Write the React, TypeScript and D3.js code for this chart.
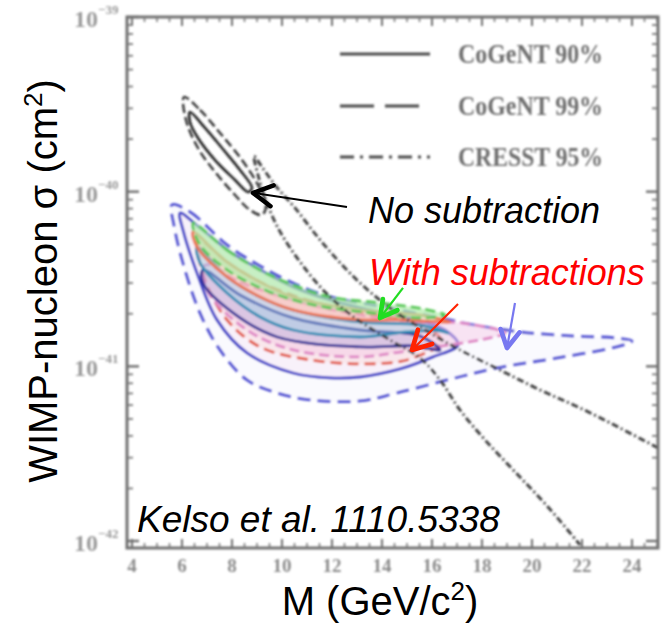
import * as d3 from "d3";

type Pt = [number, number]; // [M in GeV/c^2, log10 sigma in cm^2]

const massTicks = [4, 6, 8, 10, 12, 14, 16, 18, 20, 22, 24];
const sigmaDecades = [-39, -40, -41, -42];
const legendLabels = ["CoGeNT 90%", "CoGeNT 99%", "CRESST 95%"];

const cogent90: Pt[] = [
  [6.32, -39.544], [6.92, -39.635], [7.6, -39.75], [8.32, -39.876], [8.8, -39.979],
  [8.64, -40.002], [8.12, -39.933], [7.32, -39.819], [6.64, -39.693], [6.32, -39.601],
];
const cogent99: Pt[] = [
  [6.08, -39.458], [6.72, -39.532], [7.52, -39.664], [8.4, -39.819], [9.04, -39.962],
  [9.36, -40.076], [9.2, -40.133], [8.72, -40.105], [8.12, -40.019], [7.32, -39.887],
  [6.64, -39.75], [6.16, -39.59],
];
const cresst95: Pt[] = [
  [25.04, -41.467], [23.52, -41.353], [21.92, -41.238], [20.32, -41.135], [18.72, -41.021],
  [17.12, -40.906], [15.92, -40.809], [14.72, -40.706], [13.52, -40.574], [12.52, -40.437],
  [11.52, -40.276], [10.52, -40.093], [9.72, -39.962], [9.2, -39.859], [8.88, -39.796],
  [9.04, -39.904], [9.28, -40.019], [9.84, -40.208], [10.72, -40.402], [11.72, -40.574],
  [12.92, -40.723], [14.32, -40.849], [15.52, -40.952], [16.32, -41.078], [17.12, -41.25],
  [18.12, -41.421], [19.32, -41.604], [20.64, -41.805], [21.92, -42.022],
];

// subtracted fits
const blueDashed: Pt[] = [
  [5.6, -40.076], [6.32, -40.116], [7.8, -40.305], [9.12, -40.425], [10.44, -40.523],
  [11.8, -40.597], [13.12, -40.637], [14.72, -40.677], [16.32, -40.723], [17.92, -40.769],
  [19.52, -40.803], [21.52, -40.826], [23.32, -40.837], [24.0, -40.855], [23.52, -40.883],
  [21.24, -40.946], [18.6, -41.009], [16.6, -41.078], [14.6, -41.152], [13.12, -41.198],
  [11.12, -41.192], [9.8, -41.152], [8.6, -41.078], [7.52, -40.906], [6.72, -40.694],
  [6.04, -40.408], [5.68, -40.191],
];
const blueSolid: Pt[] = [
  [5.92, -40.122], [6.72, -40.208], [7.92, -40.345], [9.12, -40.448], [10.44, -40.545],
  [11.92, -40.62], [13.52, -40.677], [15.12, -40.723], [16.52, -40.792], [17.04, -40.877],
  [16.04, -40.946], [14.72, -41.015], [13.12, -41.061], [11.92, -41.066], [10.44, -41.038],
  [8.6, -40.923], [7.4, -40.734], [6.6, -40.465], [6.04, -40.219],
];
const redDashed: Pt[] = [
  [6.64, -40.276], [7.8, -40.402], [9.12, -40.517], [10.72, -40.608], [12.32, -40.666],
  [13.92, -40.711], [15.52, -40.757], [16.4, -40.86], [15.24, -40.952], [14.6, -40.975],
  [13.12, -40.986], [11.12, -40.963], [9.12, -40.889], [7.8, -40.734], [6.92, -40.505],
];
const pinkDashed: Pt[] = [
  [6.92, -40.42], [8.32, -40.517], [10.44, -40.62], [13.12, -40.706], [15.52, -40.746],
  [17.24, -40.752], [18.92, -40.809], [18.32, -40.837], [16.72, -40.877], [14.72, -40.918],
  [13.12, -40.946], [10.44, -40.906], [8.6, -40.792], [7.0, -40.563],
];
const purpleSolid: Pt[] = [
  [6.84, -40.448], [8.32, -40.591], [10.44, -40.723], [13.12, -40.792], [15.52, -40.826],
  [16.32, -40.906], [15.24, -40.883], [13.12, -40.889], [9.8, -40.832], [8.04, -40.694],
  [6.84, -40.523],
];
const tealSolid: Pt[] = [
  [6.6, -40.317], [7.8, -40.488], [9.12, -40.603], [10.44, -40.677], [13.12, -40.746],
  [15.52, -40.763], [16.64, -40.809], [16.32, -40.797], [15.0, -40.803], [13.12, -40.832],
  [10.44, -40.792], [9.12, -40.717], [7.8, -40.58], [6.72, -40.408],
];
const orangeSolid: Pt[] = [
  [6.44, -40.231], [7.8, -40.402], [9.12, -40.517], [10.44, -40.603], [13.12, -40.677],
  [15.52, -40.706], [16.72, -40.746], [16.32, -40.746], [14.6, -40.734], [13.12, -40.734],
  [10.44, -40.677], [9.12, -40.603], [7.8, -40.488], [6.6, -40.317],
];
const greenDashed: Pt[] = [
  [6.44, -40.179], [7.8, -40.334], [9.12, -40.448], [10.44, -40.534], [11.92, -40.603],
  [13.92, -40.637], [15.64, -40.671], [16.52, -40.706], [15.52, -40.723], [13.92, -40.7],
  [11.92, -40.666], [10.44, -40.62], [9.12, -40.551], [7.8, -40.448], [6.72, -40.305],
];

// annotation arrows: [tail, tip]
const arrowNoSub: [Pt, Pt] = [[12.6, -40.088], [8.84, -40.007]];
const arrowGreen: [Pt, Pt] = [[14.84, -40.551], [13.92, -40.723]];
const arrowRed: [Pt, Pt] = [[17.04, -40.643], [15.2, -40.906]];
const arrowBlue: [Pt, Pt] = [[19.32, -40.637], [19.0, -40.895]];

const x = d3.scaleLinear().domain([3.8, 25.04]).range([127, 658]);
const y = d3.scaleLog().domain([10 ** -42.04, 1e-39]).range([548, 17]);
const pt = (p: Pt): [number, number] => [x(p[0]), y(10 ** p[1])];

const closed = d3.line<Pt>().x((d) => pt(d)[0]).y((d) => pt(d)[1]).curve(d3.curveCatmullRomClosed.alpha(0.5));
const open = d3.line<Pt>().x((d) => pt(d)[0]).y((d) => pt(d)[1]).curve(d3.curveCatmullRom.alpha(0.5));

const contours = [
  { data: blueDashed, stroke: "#5050d2", fill: "#eeeefc", dash: "13 7", op: 0.3 },
  { data: blueSolid, stroke: "#4343c6", fill: "#f4e4f4", dash: "", op: 0.4 },
  { data: redDashed, stroke: "#e25a4a", fill: "#fadcdc", dash: "11 6", op: 0.45 },
  { data: pinkDashed, stroke: "#de86c4", fill: "#f6cce8", dash: "10 5", op: 0.5 },
  { data: purpleSolid, stroke: "#2e2e96", fill: "#9a9ad8", dash: "", op: 0.3 },
  { data: tealSolid, stroke: "#2a8cb4", fill: "#a0d2e6", dash: "", op: 0.45 },
  { data: orangeSolid, stroke: "#ec7452", fill: "#f8c2ae", dash: "", op: 0.5 },
  { data: greenDashed, stroke: "#58c858", fill: "#b2eeac", dash: "10 5", op: 0.7 },
];

function Arrow({ seg, color, width, head }: { seg: [Pt, Pt]; color: string; width: number; head: number }) {
  const [x1, y1] = pt(seg[0]);
  const [x2, y2] = pt(seg[1]);
  const a = Math.atan2(y2 - y1, x2 - x1);
  const arm = (s: number) => [x2 - head * Math.cos(a + s), y2 - head * Math.sin(a + s)];
  const [ax, ay] = arm(0.5);
  const [bx, by] = arm(-0.5);
  return (
    <g>
      <line x1={x1} y1={y1} x2={x2} y2={y2} stroke={color} strokeWidth={width} />
      <path d={`M${ax},${ay}L${x2},${y2}L${bx},${by}`} fill="none" stroke={color}
        strokeWidth={width + 2.5} strokeLinecap="round" strokeLinejoin="round" />
    </g>
  );
}

export default function App() {
  const [x0, x1] = x.range();
  const [yb, yt] = y.range();
  const minorX = d3.range(4, 25.01, 0.5).filter((v) => v % 2 !== 0);
  const minorY: number[] = [];
  for (let k = -43; k <= -40; k++) for (let j = 2; j <= 9; j++) {
    const v = j * 10 ** k;
    if (v > y.domain()[0] && v < y.domain()[1]) minorY.push(v);
  }
  const sans = "'Liberation Sans', Arial, sans-serif";
  const serif = "'Liberation Serif', 'Times New Roman', serif";
  const legendY = [54, 106, 157];
  const legendDash = ["", "34 11", "14 6 3 6"];

  return (
    <svg width={662} height={624} style={{ position: "absolute", left: 0, top: 0, background: "#fff" }}>
      <defs>
        <filter id="scan" x="-5%" y="-5%" width="110%" height="110%">
          <feGaussianBlur stdDeviation="1" />
        </filter>
        <clipPath id="frame">
          <rect x={x0} y={yt} width={x1 - x0} height={yb - yt} />
        </clipPath>
      </defs>

      <g filter="url(#scan)">
        <g clipPath="url(#frame)">
          {contours.map((c, i) => (
            <path key={i} d={closed(c.data) ?? ""} fill={c.fill} fillOpacity={c.op}
              stroke={c.stroke} strokeWidth={2.8} strokeDasharray={c.dash} />
          ))}
          <path d={closed(cogent99) ?? ""} fill="none" stroke="#333" strokeWidth={2.4} strokeDasharray="9 4" />
          <path d={closed(cogent90) ?? ""} fill="none" stroke="#222" strokeWidth={2.6} />
          <path d={open(cresst95) ?? ""} fill="none" stroke="#3a3a3a" strokeWidth={2.8} strokeDasharray="7 3 2 3" />
        </g>

        <rect x={x0} y={yt} width={x1 - x0} height={yb - yt} fill="none" stroke="#707070" strokeWidth={3} />
        {massTicks.map((t) => (
          <g key={t}>
            <line x1={x(t)} x2={x(t)} y1={yb} y2={yb - 9} stroke="#707070" strokeWidth={2} />
            <line x1={x(t)} x2={x(t)} y1={yt} y2={yt + 9} stroke="#707070" strokeWidth={2} />
            <text x={x(t)} y={572} textAnchor="middle" fontSize={19} fontWeight="bold"
              fontFamily={serif} fill="#8a8a8a">{t}</text>
          </g>
        ))}
        {minorX.map((t) => (
          <g key={t}>
            <line x1={x(t)} x2={x(t)} y1={yb} y2={yb - 5} stroke="#7a7a7a" strokeWidth={1.6} />
            <line x1={x(t)} x2={x(t)} y1={yt} y2={yt + 5} stroke="#7a7a7a" strokeWidth={1.6} />
          </g>
        ))}
        {sigmaDecades.map((k) => {
          const yy = y(10 ** k);
          return (
            <g key={k}>
              <line x1={x0} x2={x0 + 12} y1={yy} y2={yy} stroke="#707070" strokeWidth={2.4} />
              <line x1={x1} x2={x1 - 12} y1={yy} y2={yy} stroke="#707070" strokeWidth={2.4} />
              <text x={74} y={yy + 10} fontSize={24} fontFamily={serif} fontWeight="bold" fill="#9a9a9a">
                10<tspan fontSize={13} dy={-13}>{`−${-k}`}</tspan>
              </text>
            </g>
          );
        })}
        {minorY.map((v, i) => (
          <g key={i}>
            <line x1={x0} x2={x0 + 6} y1={y(v)} y2={y(v)} stroke="#7a7a7a" strokeWidth={1.8} />
            <line x1={x1} x2={x1 - 6} y1={y(v)} y2={y(v)} stroke="#7a7a7a" strokeWidth={1.8} />
          </g>
        ))}

        {legendLabels.map((l, i) => (
          <g key={l}>
            <line x1={340} x2={430} y1={legendY[i]} y2={legendY[i]} stroke="#4a4a4a"
              strokeWidth={3} strokeDasharray={legendDash[i]} />
            <text x={458} y={legendY[i] + 9} fontSize={27} fontWeight="bold" fontFamily={serif}
              fill="#6e6e6e" textLength={145} lengthAdjust="spacingAndGlyphs">{l}</text>
          </g>
        ))}
      </g>

      <Arrow seg={arrowNoSub} color="#000" width={2} head={22} />
      <Arrow seg={arrowGreen} color="#22dd22" width={2.2} head={19} />
      <Arrow seg={arrowRed} color="#ff2200" width={2.2} head={21} />
      <Arrow seg={arrowBlue} color="#7878f0" width={2.2} head={20} />

      <text x={368} y={223} fontSize={36} fontStyle="italic" fontFamily={sans} fill="#000">No subtraction</text>
      <text x={369} y={285} fontSize={36} fontStyle="italic" fontFamily={sans} fill="#ff0000">With subtractions</text>
      <text x={137} y={532} fontSize={37} fontStyle="italic" fontFamily={sans} fill="#000">Kelso et al. 1110.5338</text>

      <text x={380} y={615} textAnchor="middle" fontSize={40} fontFamily={sans} fill="#000">
        M (GeV/c<tspan fontSize={26} dy={-15}>2</tspan><tspan dy={15}>)</tspan>
      </text>
      <text transform="translate(57,281) rotate(-90)" textAnchor="middle" fontSize={40} fontFamily={sans} fill="#000">
        WIMP-nucleon σ (cm<tspan fontSize={26} dy={-15}>2</tspan><tspan dy={15}>)</tspan>
      </text>
    </svg>
  );
}
